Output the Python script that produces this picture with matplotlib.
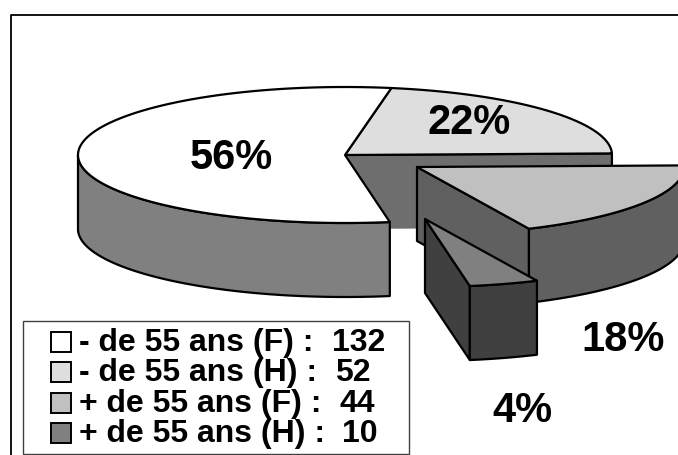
import numpy as np
import matplotlib
matplotlib.use("Agg")
import matplotlib.pyplot as plt
from matplotlib.patches import Polygon, Rectangle

categories = ["- de 55 ans (F) :", "- de 55 ans (H) :", "+ de 55 ans (F) :", "+ de 55 ans (H) :"]
values = [132, 52, 44, 10]
pct_labels = ["56%", "22%", "18%", "4%"]
top_colors = ["#ffffff", "#dedede", "#c0c0c0", "#808080"]
side_colors = ["#808080", "#707070", "#606060", "#404040"]
wall_color = "#6e6e6e"

plt.rcParams["font.family"] = ["Liberation Sans", "DejaVu Sans"]

fig = plt.figure(figsize=(6.78, 4.55), dpi=100)
ax = fig.add_axes([0, 0, 1, 1])
ax.set_xlim(0, 678)
ax.set_ylim(455, 0)
ax.axis("off")

# Pie geometry
CX, CY, RX, RY, DEPTH = 345, 155, 267, 68, 74
LW = 1.6
spans = 360 * np.array(values) / sum(values)
start = 80.0
a22 = (start, start - spans[1])
a18 = (a22[1], a22[1] - spans[2])
a04 = (a18[1], a18[1] - spans[3])
a56 = (a04[1], a04[1] - spans[0])
off18 = (72, 12)
off04 = (80, 64)


def arc(a0, a1, off=(0, 0), dy=0):
    t = np.radians(np.linspace(a0, a1, 160))
    return np.column_stack([CX + off[0] + RX * np.cos(t), CY + off[1] + dy - RY * np.sin(t)])


def apex(off=(0, 0), dy=0):
    return np.array([[CX + off[0], CY + off[1] + dy]])


def poly(pts, fc, z, lw=LW, ec="black"):
    ax.add_patch(Polygon(pts, closed=True, fc=fc, ec=ec, lw=lw, joinstyle="round", zorder=z))


# Main body: wall of the 22% slice seen through the gap
p0 = arc(a22[1], a22[1])[0]
wall = np.array([[CX, CY], p0, p0 + [0, DEPTH], [CX, CY + DEPTH]])
poly(wall, wall_color, 1, lw=0, ec="none")
ax.plot([CX, p0[0], p0[0]], [CY, p0[1], p0[1] + 14], color="black", lw=LW, zorder=2)

# 22% top
poly(np.vstack([apex(), arc(*a22)]), top_colors[1], 3)

# 56% side (visible front-left part) and top
t_front = a04[1] + 360
front = arc(180.0, t_front)
poly(np.vstack([front, (front + [0, DEPTH])[::-1]]), side_colors[0], 3)
poly(np.vstack([apex(), arc(a56[0] + 360, a56[1] + 360)]), top_colors[0], 4)

# 18% exploded slice
pa = apex(off18)
pa_bot = apex(off18, DEPTH)
pe = arc(a18[1], a18[1], off18)[0]
poly(np.vstack([pa, [pe], [pe + [0, DEPTH]], pa_bot]), side_colors[2], 5)
a = arc(a18[1], a18[0], off18)
poly(np.vstack([a, (a + [0, DEPTH])[::-1]]), side_colors[2], 5)
poly(np.vstack([pa, arc(*a18, off18)]), top_colors[2], 6)

# 4% exploded slice
pa = apex(off04)
pa_bot = apex(off04, DEPTH)
pe = arc(a04[1], a04[1], off04)[0]
poly(np.vstack([pa, [pe], [pe + [0, DEPTH]], pa_bot]), side_colors[3], 7)
a = arc(a04[1], a04[0], off04)
poly(np.vstack([a, (a + [0, DEPTH])[::-1]]), side_colors[3], 7)
poly(np.vstack([pa, arc(*a04, off04)]), top_colors[3], 8)

# Percentage labels
pct_xy = [(231, 158), (469, 123), (623, 340), (522, 411)]
for s, (x, y) in zip(pct_labels, pct_xy):
    ax.text(x, y, s, fontsize=30, fontweight="bold", ha="center", va="center", zorder=10)

# Outer frame
ax.plot([10.5, 10.5, 678], [455, 14.5, 14.5], color="black", lw=1.3, zorder=20)

# Legend
ax.add_patch(Rectangle((22.5, 320.5), 386.5, 133, fc="white", ec="#404040", lw=1.0, zorder=11))
rows_y = [342, 372, 403, 433]
val_x = [385, 371, 375, 378]
for cat, v, y, fc, vx in zip(categories, values, rows_y, ["#ffffff", "#dedede", "#c0c0c0", "#808080"], val_x):
    ax.add_patch(Rectangle((51, y - 10), 20, 20, fc=fc, ec="black", lw=1.4, zorder=12))
    ax.text(79, y + 1, cat, fontsize=23, fontweight="bold", ha="left", va="center", zorder=12)
    ax.text(vx, y + 1, str(v), fontsize=23, fontweight="bold", ha="right", va="center", zorder=12)

fig.savefig("out.png", dpi=100)
